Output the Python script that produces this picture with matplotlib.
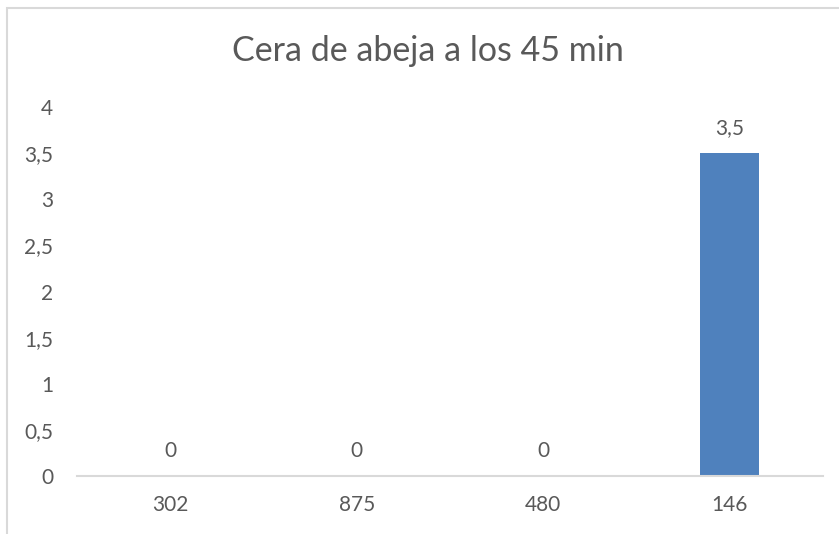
import matplotlib.pyplot as plt
from matplotlib.ticker import FuncFormatter

# muestras y valores a los 45 minutos
muestras = ['302', '875', '480', '146']
valores = [0, 0, 0, 3.5]

plt.rcParams['font.family'] = ['Lato', 'DejaVu Sans']
gris = '#595959'

fig = plt.figure(figsize=(8.39, 5.34), dpi=100)
# marco del area del grafico
fig.patches.append(plt.Rectangle((6.5 / 839, -0.1), 1.2, 1.1 - 7.5 / 534,
                                 transform=fig.transFigure, fill=False,
                                 edgecolor='#d9d9d9', linewidth=1.5))

ax = fig.add_axes([77 / 839, 58 / 534, 746 / 839, 369 / 534])
x = range(len(muestras))
barras = ax.bar(x, valores, width=0.316, color='#4f81bd')

def coma(v, pos=None):
    s = ('%g' % v)
    return s.replace('.', ',')

for b, v in zip(barras, valores):
    ax.annotate(coma(v), (b.get_x() + b.get_width() / 2, v),
                textcoords='offset points', xytext=(0, 11),
                ha='center', va='bottom', fontsize=15, color=gris)

ax.set_xlim(-0.5, len(muestras) - 0.5)
ax.set_ylim(0, 4)
ax.set_yticks([0, 0.5, 1, 1.5, 2, 2.5, 3, 3.5, 4])
ax.yaxis.set_major_formatter(FuncFormatter(coma))
ax.set_xticks(list(x))
ax.set_xticklabels(muestras)
ax.tick_params(axis='both', length=0, labelsize=15, labelcolor=gris)
ax.tick_params(axis='y', pad=17)
ax.tick_params(axis='x', pad=14)

for lado in ['top', 'right', 'left']:
    ax.spines[lado].set_visible(False)
ax.spines['bottom'].set_color('#d9d9d9')
ax.spines['bottom'].set_linewidth(1.5)

fig.text(428 / 839, 1 - 51 / 534, 'Cera de abeja a los 45 min',
         ha='center', va='center', fontsize=24.5, color=gris)

fig.savefig('out.png', dpi=100)
